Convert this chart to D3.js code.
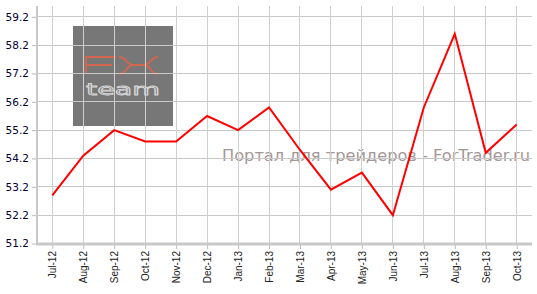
<!DOCTYPE html>
<html><head><meta charset="utf-8">
<script src="https://cdn.jsdelivr.net/npm/d3@7"></script>
<style>html,body{margin:0;padding:0;background:#fff;}svg{display:block;}</style>
</head><body>
<svg id="chart" width="537" height="294"></svg>
<script>
const categories = ["Jul-12","Aug-12","Sep-12","Oct-12","Nov-12","Dec-12","Jan-13","Feb-13","Mar-13","Apr-13","May-13","Jun-13","Jul-13","Aug-13","Sep-13","Oct-13"];
const values = [52.9,54.3,55.2,54.8,54.8,55.7,55.2,56.0,54.5,53.1,53.7,52.2,56.0,58.6,54.4,55.4];
const yTicks = [51.2,52.2,53.2,54.2,55.2,56.2,57.2,58.2,59.2];
const watermark = "Портал для трейдеров - ForTrader.ru";

(function(){
const svg = d3.select("#chart");
const pLeft = 37, pRight = 532, pTop = 6, pBottom = 244;
const x = d3.scalePoint().domain(categories).range([52.3, 516.7]);
const y = d3.scaleLinear().domain([51.2, 59.2]).range([243.5, 16.8]);

// logo
const logo = svg.append("g");
logo.append("rect").attr("x",73).attr("y",26).attr("width",100).attr("height",100).attr("fill","#777777");
logo.append("path").attr("d","M86,74V57H116M86,65H112 M119,57C127,57 126,65 133,65H144C151,65 150,57 158,57 M119,74C127,74 126,65 133,65 M144,65C151,65 150,74 158,74")
  .attr("fill","none").attr("stroke","#d4664f").attr("stroke-width",1.8);
logo.append("text").attr("x",86).attr("y",95).attr("font-family","DejaVu Sans").attr("font-size",15)
  .attr("fill","none").attr("stroke","#d6d6d6").attr("stroke-width",0.8)
  .attr("textLength",74).attr("lengthAdjust","spacingAndGlyphs").text("team");

// watermark
svg.append("text").attr("x",222).attr("y",161).attr("font-family","DejaVu Sans").attr("font-size",15.5)
  .attr("fill","#a39797").attr("textLength",308).attr("lengthAdjust","spacingAndGlyphs").text(watermark);

// grid
const grid = svg.append("g").attr("shape-rendering","crispEdges");
grid.selectAll(".hg").data(yTicks).join("line")
  .attr("x1",pLeft).attr("x2",pRight).attr("y1",d=>y(d)).attr("y2",d=>y(d))
  .attr("stroke","#c8c8c8").attr("stroke-width",1);
grid.selectAll(".vg").data(categories).join("line")
  .attr("x1",d=>x(d)).attr("x2",d=>x(d)).attr("y1",pTop).attr("y2",pBottom)
  .attr("stroke","#cfcfcf").attr("stroke-width",1);

// axes
const yAxis = d3.axisLeft(y).tickValues(yTicks).tickFormat(d3.format(".1f")).tickSize(5).tickPadding(3);
const gy = svg.append("g").attr("transform",`translate(${pLeft},0)`).call(yAxis);
gy.select(".domain").remove();
gy.selectAll(".tick line").attr("stroke","#bbbbbb");
gy.selectAll(".tick text").attr("font-family","DejaVu Sans").attr("font-size",10.5).attr("fill","#000033");
svg.append("line").attr("x1",pLeft).attr("x2",pLeft).attr("y1",pTop).attr("y2",pBottom+1)
  .attr("stroke","#c8c8c8").attr("stroke-width",2);

const xAxis = d3.axisBottom(x).tickSize(5).tickPadding(2);
const gx = svg.append("g").attr("transform",`translate(0,${pBottom})`).call(xAxis);
gx.select(".domain").remove();
gx.selectAll(".tick line").attr("stroke","#bbbbbb");
gx.selectAll(".tick text").attr("font-family","Liberation Sans, Arial").attr("font-size",10).attr("fill","#222")
  .attr("transform","rotate(-90)").attr("text-anchor","end").attr("dy","0.35em").attr("x",-7).attr("y",0);
svg.append("line").attr("x1",pLeft-1).attr("x2",pRight).attr("y1",pBottom).attr("y2",pBottom)
  .attr("stroke","#c8c8c8").attr("stroke-width",3);

// series
const line = d3.line().x((d,i)=>x(categories[i])).y(d=>y(d));
svg.append("path").datum(values).attr("d",line).attr("fill","none")
  .attr("stroke","#ff0000").attr("stroke-width",2).attr("stroke-linejoin","miter");
})();
</script>
</body></html>
